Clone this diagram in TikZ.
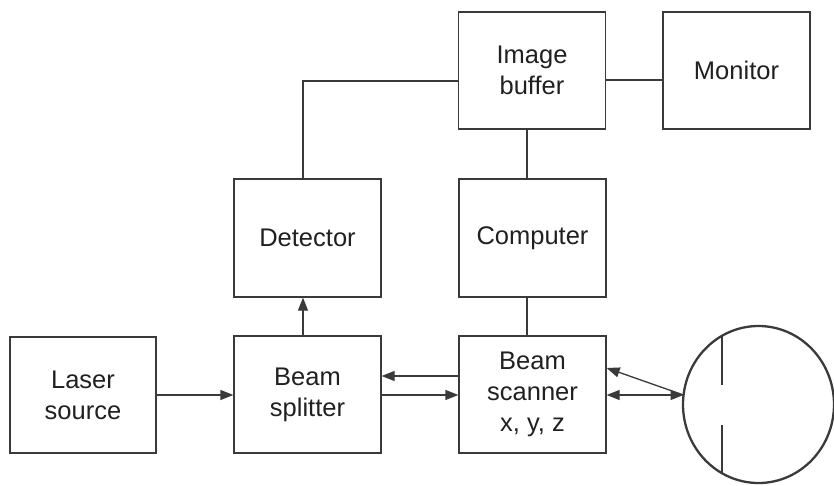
\documentclass[tikz,border=0pt]{standalone}
\usepackage{fontspec}
\setmainfont{Liberation Sans}
\usetikzlibrary{arrows.meta,shapes.geometric}
\definecolor{ln}{HTML}{3A3A3A}
\definecolor{tx}{HTML}{202020}
\tikzset{
  blk/.style={draw=ln, line width=1.3pt, minimum width=147pt, minimum height=117pt, inner sep=0pt,
    align=center, text=tx, font=\fontsize{25.5}{31}\selectfont},
  con/.style={draw=ln, line width=1.3pt},
  arr/.style={con, -{Triangle[length=13pt,width=10pt]}},
  darr/.style={con, {Triangle[length=13pt,width=10pt]}-{Triangle[length=13pt,width=10pt]}}
}
\begin{document}
\begin{tikzpicture}[x=1pt,y=-1pt]
\useasboundingbox (0,0) rectangle (834,485);
\node[blk, minimum width=146pt, minimum height=116pt] (laser) at (83,395) {Laser\\source};
\node[blk, minimum height=117pt] (split) at (307.5,394.5) {Beam\\splitter};
\node[blk, minimum height=117pt] (scan) at (532.5,394.5) {Beam\\scanner\\x, y, z};
\node[blk, minimum height=118pt] (det) at (307.5,238) {Detector};
\node[blk, minimum height=118pt] (comp) at (532.5,238) {Computer};
\node[blk, minimum height=117pt] (buf) at (532,70.5) {Image\\buffer};
\node[blk, minimum height=117pt] (mon) at (736.5,70.5) {Monitor};
\node[draw=ln, line width=2.3pt, ellipse, minimum width=151pt, minimum height=157pt, inner sep=0pt] (eye) at (758.5,404.5) {};
\coordinate (ep) at (683.5,395);
\coordinate (bend) at (303,81);
% connectors
\draw[arr] (laser.east |- 0,395) -- (split.west |- 0,395);
\draw[arr] (split.east |- 0,395) -- (scan.west |- 0,395);
\draw[arr] (scan.west |- 0,376) -- (split.east |- 0,376);
\draw[arr] (split.north -| bend) -- (det.south -| bend);
\draw[con] (det.north -| bend) -- (bend) -- (buf.west |- bend);
\draw[con] (buf.south -| 527,0) -- (comp.north -| 527,0);
\draw[con] (comp.south -| 527,0) -- (scan.north -| 527,0);
\draw[con] (buf.east |- 0,80) -- (mon.west |- 0,80);
\draw[darr] (scan.east |- ep) -- (ep);
\draw[arr] (ep) -- (scan.east |- 0,368);
% inner lines of the eye
\draw[ln, line width=2.3pt] (722,336) -- (722,385);
\draw[ln, line width=2.3pt] (722,425) -- (722,473);
\end{tikzpicture}
\end{document}
